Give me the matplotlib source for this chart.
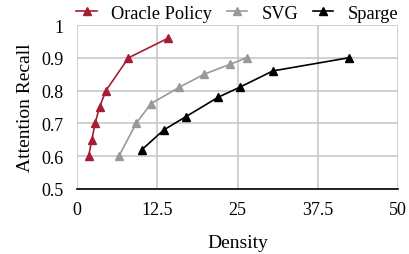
import matplotlib
matplotlib.use('Agg')
import matplotlib.pyplot as plt

# density vs attention recall
oracle_x = [1.8, 2.3, 2.8, 3.5, 4.5, 8.0, 14.2]
oracle_y = [0.60, 0.65, 0.70, 0.75, 0.80, 0.90, 0.96]
svg_x = [6.5, 9.2, 11.5, 15.9, 19.8, 23.8, 26.4]
svg_y = [0.60, 0.70, 0.76, 0.81, 0.85, 0.88, 0.90]
sparge_x = [10.1, 13.5, 16.9, 22.0, 25.3, 30.5, 42.3]
sparge_y = [0.62, 0.68, 0.72, 0.78, 0.81, 0.86, 0.90]

xticks = [0, 12.5, 25, 37.5, 50]
xtick_labels = ['0', '12.5', '25', '37.5', '50']
yticks = [0.5, 0.6, 0.7, 0.8, 0.9, 1.0]
ytick_labels = ['0.5', '0.6', '0.7', '0.8', '0.9', '1']

plt.rcParams['font.family'] = ['Liberation Serif', 'DejaVu Serif']
plt.rcParams['font.size'] = 13

fig = plt.figure(figsize=(4.1, 2.55), dpi=100)
ax = fig.add_axes([0.188, 0.255, 0.783, 0.643])

ax.plot(oracle_x, oracle_y, '-^', color='#A61E35', lw=1.2, ms=6, label='Oracle Policy', zorder=3)
ax.plot(svg_x, svg_y, '-^', color='#999999', lw=1.2, ms=6, label='SVG', zorder=3)
ax.plot(sparge_x, sparge_y, '-^', color='black', lw=1.2, ms=6, label='Sparge', zorder=3)

ax.set_xlim(0, 50)
ax.set_ylim(0.5, 1.0)
ax.set_xticks(xticks)
ax.set_xticklabels(xtick_labels)
ax.set_yticks(yticks)
ax.set_yticklabels(ytick_labels)
ax.grid(True, color='#C8C8C8', lw=1.2)
ax.set_axisbelow(True)
for s in ['left', 'right', 'top']:
    ax.spines[s].set_visible(False)
ax.spines['bottom'].set_color('black')
ax.spines['bottom'].set_linewidth(1.2)
ax.tick_params(length=0, labelsize=13)
ax.tick_params(axis='y', pad=10)
ax.tick_params(axis='x', pad=9)

ax.set_xlabel('Density', fontsize=14, labelpad=11)
ax.set_ylabel('Attention Recall', fontsize=14, labelpad=5)

ax.legend(loc='lower center', bbox_to_anchor=(0.5, 0.975), ncol=3, frameon=False, fontsize=13.2,
          handlelength=1.1, columnspacing=0.8, handletextpad=0.8, borderaxespad=0)

fig.savefig('out.png', dpi=100)
